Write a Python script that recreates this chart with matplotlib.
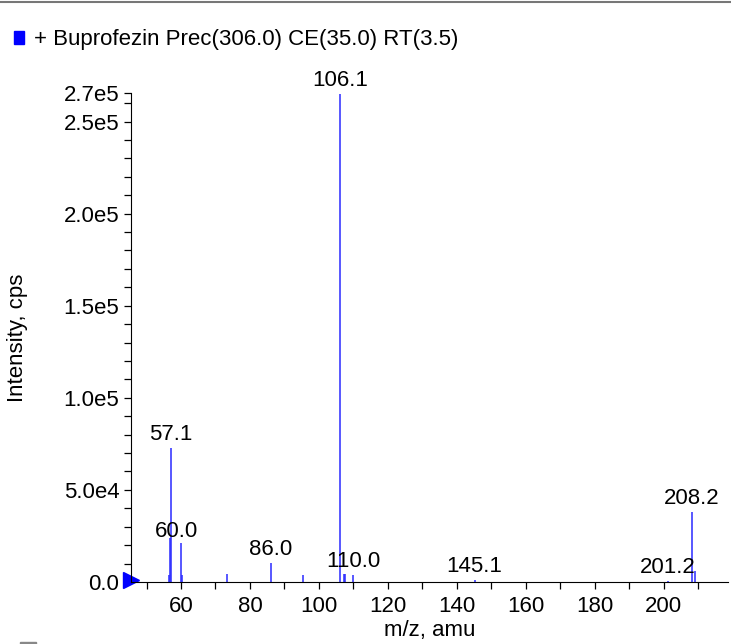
import matplotlib.pyplot as plt
from matplotlib.patches import Rectangle
from matplotlib.ticker import MultipleLocator

plt.rcParams['font.family'] = ['Liberation Sans', 'DejaVu Sans']

# peak list (m/z, intensity in cps)
mz = [56.4, 56.9, 57.1, 60.0, 60.3, 73.4, 86.0, 95.3, 106.1, 107.2, 107.6, 110.0, 145.1, 201.2, 208.2, 208.9]
intensity = [3800, 24000, 73000, 21000, 3800, 4300, 10300, 3800, 265000, 4300, 4300, 3800, 1000, 500, 38000, 6000]

# peaks that carry a label
label_mz = [57.1, 60.0, 86.0, 106.1, 110.0, 145.1, 201.2, 208.2]
label_int = [73000, 21000, 10300, 265000, 3800, 1000, 500, 38000]
label_dx = [0, -3, 0, 0, 0, 0, 0, 0]
label_dy = [2, 1, 2, 2, 2, 2, 2, 2]

title = '+ Buprofezin Prec(306.0) CE(35.0) RT(3.5)'
y_max = 2.655e5
y_ticks = [0, 5e4, 1e5, 1.5e5, 2e5, 2.5e5, y_max]
y_labels = ['0.0', '5.0e4', '1.0e5', '1.5e5', '2.0e5', '2.5e5', '2.7e5']

fs = 16

fig = plt.figure(figsize=(7.31, 6.44), dpi=100)
ax = fig.add_axes([0.1792, 0.0963, 0.8167, 0.7593])

ax.vlines(mz, 0, intensity, color='#2a2aff', lw=1.1)
for x, y, dx, dy in zip(label_mz, label_int, label_dx, label_dy):
    ax.annotate(f'{x:.1f}', (x, y), xytext=(dx, dy), textcoords='offset points',
                ha='center', va='bottom', fontsize=fs)

ax.set_xlim(45.5, 218.6)
ax.set_ylim(0, y_max)
ax.set_yticks(y_ticks)
ax.set_yticklabels(y_labels)
ax.xaxis.set_major_locator(MultipleLocator(20))
ax.xaxis.set_minor_locator(MultipleLocator(10))
ax.yaxis.set_minor_locator(MultipleLocator(1e4))
ax.tick_params(labelsize=fs, length=5, width=0.9)
ax.tick_params(axis='x', pad=5)
ax.tick_params(which='minor', length=5, width=0.9)
for s in ['top', 'right']:
    ax.spines[s].set_visible(False)
ax.set_xlabel('m/z, amu', fontsize=fs)
ax.set_ylabel('Intensity, cps', fontsize=fs)
ax.xaxis.set_label_coords(0.5, -0.078)
ax.yaxis.set_label_coords(-0.172, 0.5)

# blue pointer on the y axis at zero
ax.plot([45.5], [0.1e4], marker='>', color='#0000ff', markersize=11, clip_on=False)

# header: grey rule, legend square and title
fig.add_artist(plt.Line2D([0, 1], [0.997, 0.997], color='#777777', lw=1.5))
fig.add_artist(Rectangle((0.019, 0.932), 0.014, 0.02, color='#0000ff', transform=fig.transFigure))
fig.text(0.046, 0.938, title, fontsize=fs, va='center')
fig.add_artist(Rectangle((0.027, 0.0), 0.022, 0.003, color='#888888', transform=fig.transFigure))

fig.savefig('out.png', dpi=100)
